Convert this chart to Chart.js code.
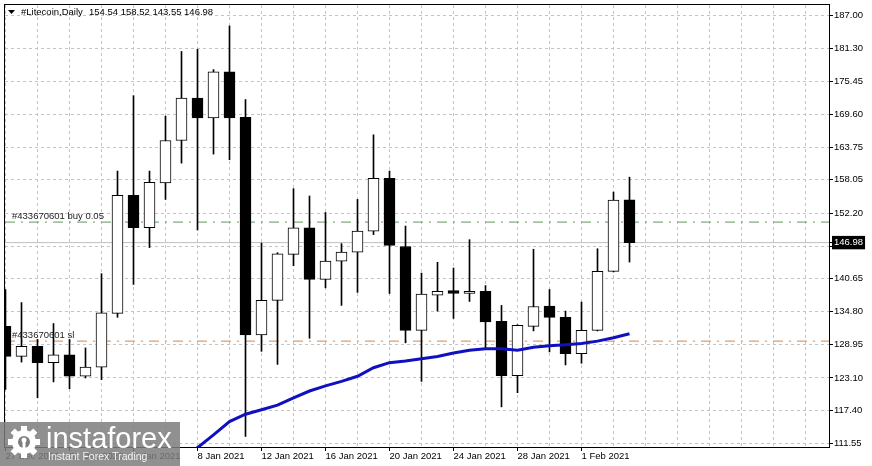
<!DOCTYPE html>
<html><head><meta charset="utf-8">
<script src="https://cdn.jsdelivr.net/npm/chart.js@4.4.0/dist/chart.umd.min.js"></script>
<style>html,body{margin:0;padding:0;background:#fff;}#wrap{width:872px;height:466px;position:relative;}</style>
</head><body><div id="wrap"><canvas id="c" width="872" height="466"></canvas></div>
<script>
// ---- data ----
const dates = ['27 Dec 2020','28 Dec 2020','29 Dec 2020','30 Dec 2020','31 Dec 2020',
  '1 Jan 2021','2 Jan 2021','3 Jan 2021','4 Jan 2021','5 Jan 2021','6 Jan 2021','7 Jan 2021','8 Jan 2021',
  '9 Jan 2021','10 Jan 2021','11 Jan 2021','12 Jan 2021','13 Jan 2021','14 Jan 2021','15 Jan 2021','16 Jan 2021',
  '17 Jan 2021','18 Jan 2021','19 Jan 2021','20 Jan 2021','21 Jan 2021','22 Jan 2021','23 Jan 2021','24 Jan 2021',
  '25 Jan 2021','26 Jan 2021','27 Jan 2021','28 Jan 2021','29 Jan 2021','30 Jan 2021','31 Jan 2021',
  '1 Feb 2021','2 Feb 2021','3 Feb 2021','4 Feb 2021'];
const opens  = [132.2,126.9,128.7,125.8,127.2,123.4,125.0,134.5,155.3,149.6,157.5,165.0,172.5,169.0,177.1,169.1,
  130.7,136.8,144.9,149.6,140.5,143.7,145.3,149.0,158.3,146.3,131.5,137.7,138.5,138.0,138.4,133.1,123.5,132.2,
  135.8,133.8,127.4,131.5,141.9,154.54];
const highs  = [138.7,136.4,129.9,132.7,129.9,128.4,141.5,159.6,172.9,159.6,169.3,180.7,181.1,177.5,185.2,172.2,
  146.9,145.2,156.5,155.2,152.3,146.8,154.6,166.0,159.6,149.9,141.6,143.5,142.5,147.5,139.4,135.9,132.5,145.8,
  138.7,134.9,136.5,145.9,155.9,158.52];
const lows   = [121.1,125.9,119.6,122.4,121.2,123.1,122.8,133.8,139.6,146.1,154.6,161.0,149.2,162.6,161.6,112.8,
  127.8,125.5,142.9,130.1,139.0,135.9,138.2,148.4,138.0,129.3,122.5,134.9,133.6,136.6,128.1,118.0,120.5,131.4,
  127.7,125.4,125.7,131.4,141.8,143.55];
const closes = [126.9,128.7,125.8,127.2,123.4,125.0,134.6,155.3,149.6,157.6,165.0,172.5,169.0,177.1,169.0,130.7,
  136.8,145.0,149.6,140.5,143.7,145.3,149.0,158.3,146.5,131.5,137.9,138.4,138.0,138.4,133.0,123.5,132.4,135.7,
  133.8,127.4,131.5,141.9,154.5,146.98];
const maValues = [null,null,null,null,null,null,null,null,null,null,null,108.5,110.8,113.05,115.4,116.7,
  117.5,118.3,119.6,120.8,121.7,122.5,123.4,124.9,125.8,126.1,126.5,126.9,127.5,128.0,128.25,128.25,128.0,128.5,
  128.8,128.95,129.2,129.6,130.2,130.9];
const yTickValues = [111.55,117.40,123.10,128.95,134.80,140.65,146.35,152.20,158.05,163.75,169.60,175.45,181.30,187.00];
const hiddenTickValues = [146.35];
const buyLevel = 150.6;
const slLevel = 129.6;
const lastClose = closes[closes.length - 1];
const titleName = '#Litecoin,Daily';
const titleOHLC = '154.54 158.52 143.55 146.98';
const buyLabel = '#433670601 buy 0.05';
const slLabel = '#433670601 sl';

// ---- derived ----
const X_MIN = -0.03125, X_MAX = 51.46875;
const FONT = '"Liberation Sans", Arial, sans-serif';
const idx = dates.map((_, i) => i);
const wickData = idx.map(i => ({x: i, y: [lows[i], highs[i]]}));
const bodyData = idx.map(i => ({x: i, y: [opens[i], closes[i]]}));
const bodyColors = idx.map(i => closes[i] >= opens[i] ? '#ffffff' : '#000000');
const maData = idx.filter(i => maValues[i] !== null).map(i => ({x: i, y: maValues[i]}));
const hLine = v => [{x: X_MIN, y: v}, {x: X_MAX, y: v}];
const isLabelled = v => Number.isInteger(v) && v % 4 === 0 && v < dates.length;

const overlay = {
  id: 'overlay',
  afterDraw(chart) {
    const {ctx, chartArea: a, scales: {y}} = chart;
    ctx.save();
    ctx.setLineDash([]);
    // frame
    ctx.strokeStyle = '#000'; ctx.lineWidth = 1;
    ctx.strokeRect(Math.round(a.left) - 0.5, Math.round(a.top) - 0.5, Math.round(a.right - a.left) + 1, Math.round(a.bottom - a.top) + 1);
    // title
    ctx.fillStyle = '#000';
    ctx.beginPath(); ctx.moveTo(8, 10); ctx.lineTo(15, 10); ctx.lineTo(11.5, 14); ctx.closePath(); ctx.fill();
    ctx.font = '9.5px ' + FONT; ctx.textBaseline = 'middle';
    ctx.fillText(titleName, 21, 12);
    ctx.fillText(titleOHLC, 89, 12);
    // order labels
    ctx.fillStyle = '#222'; ctx.textBaseline = 'bottom';
    ctx.fillText(buyLabel, a.left + 7, y.getPixelForValue(buyLevel) - 1);
    ctx.fillText(slLabel, a.left + 7, y.getPixelForValue(slLevel) - 1);
    // watermark
    ctx.fillStyle = 'rgba(125,125,125,0.85)';
    ctx.fillRect(0, 422, 180, 44);
    ctx.fillStyle = '#fff';
    const cx = 24, cy = 442;
    ctx.save(); ctx.translate(cx, cy);
    for (let k = 0; k < 8; k++) { ctx.rotate(Math.PI / 4); ctx.fillRect(-3, -16, 6, 6); }
    ctx.restore();
    ctx.beginPath(); ctx.arc(cx, cy, 12, 0, Math.PI * 2); ctx.fill();
    ctx.fillStyle = 'rgba(125,125,125,1)';
    ctx.beginPath(); ctx.arc(cx, cy, 6, 0, Math.PI * 2); ctx.fill();
    ctx.fillStyle = '#fff';
    ctx.beginPath(); ctx.arc(cx, cy - 2, 2.5, 0, Math.PI * 2); ctx.fill();
    ctx.fillRect(cx - 1.5, cy, 3, 8);
    ctx.font = '29px ' + FONT; ctx.textBaseline = 'alphabetic';
    ctx.fillText('instaforex', 46, 448);
    ctx.fillStyle = 'rgba(255,255,255,0.9)';
    ctx.font = '10.5px ' + FONT;
    ctx.fillText('Instant Forex Trading', 48, 460);
    ctx.restore();
  }
};

new Chart(document.getElementById('c'), {
  type: 'bar',
  data: {
    datasets: [
      {type: 'line', data: maData, borderColor: '#1010c0', borderWidth: 3, pointRadius: 0, tension: 0, order: 0},
      {type: 'bar', data: bodyData, backgroundColor: bodyColors, borderColor: '#000', borderWidth: 1,
        borderSkipped: false, barThickness: 11, grouped: false, order: 1},
      {type: 'bar', data: wickData, backgroundColor: '#000', borderWidth: 0, barThickness: 1, grouped: false, order: 2},
      {type: 'line', data: hLine(lastClose), borderColor: '#c0c0c0', borderWidth: 1, pointRadius: 0, order: 3},
      {type: 'line', data: hLine(buyLevel), borderColor: '#5f965f', borderWidth: 1, borderDash: [10, 6, 2, 6], pointRadius: 0, order: 3},
      {type: 'line', data: hLine(slLevel), borderColor: '#d8844a', borderWidth: 1, borderDash: [10, 6, 2, 6], pointRadius: 0, order: 3}
    ]
  },
  options: {
    responsive: false, animation: false, devicePixelRatio: 1,
    layout: {padding: {left: 5, top: 5, right: 0, bottom: 0}},
    plugins: {legend: {display: false}, tooltip: {enabled: false}},
    scales: {
      x: {
        type: 'linear', min: X_MIN, max: X_MAX, offset: false,
        afterBuildTicks: s => { const t = []; for (let v = 0; v <= X_MAX; v += 2) t.push({value: v}); s.ticks = t; },
        afterFit: s => { s.height = 19; s.paddingLeft = 0; s.paddingRight = 0; },
        grid: {color: '#c4c4c4', offset: false, tickLength: 4,
          tickColor: c => (c.tick && isLabelled(c.tick.value)) ? '#000' : 'rgba(0,0,0,0)'},
        border: {display: true, color: '#000', dash: [3, 3]},
        ticks: {autoSkip: false, maxRotation: 0, minRotation: 0, align: 'start', padding: 0, color: '#000',
          font: {family: FONT, size: 9.5}, callback: v => isLabelled(v) ? dates[v] : ''}
      },
      y: {
        position: 'right', min: 110.92, max: 188.9,
        afterBuildTicks: s => { s.ticks = yTickValues.concat([lastClose]).sort((p, q) => p - q).map(v => ({value: v})); },
        afterFit: s => { s.width = 43; s.paddingTop = 0; s.paddingBottom = 0; },
        grid: {color: c => (c.tick && c.tick.value === lastClose) ? 'rgba(0,0,0,0)' : '#c4c4c4', tickLength: 4,
          tickColor: '#000'},
        border: {display: true, color: '#000', dash: [3, 3]},
        ticks: {autoSkip: false, padding: 1, font: {family: FONT, size: 9.5},
          color: c => (c.tick && c.tick.value === lastClose) ? '#fff' : '#000',
          showLabelBackdrop: c => !!(c.tick && c.tick.value === lastClose),
          backdropColor: '#000', backdropPadding: {top: 1, bottom: 1, left: 2, right: 2},
          callback: v => hiddenTickValues.includes(v) ? '' : v.toFixed(2)}
      }
    }
  },
  plugins: [overlay]
});
</script></body></html>
